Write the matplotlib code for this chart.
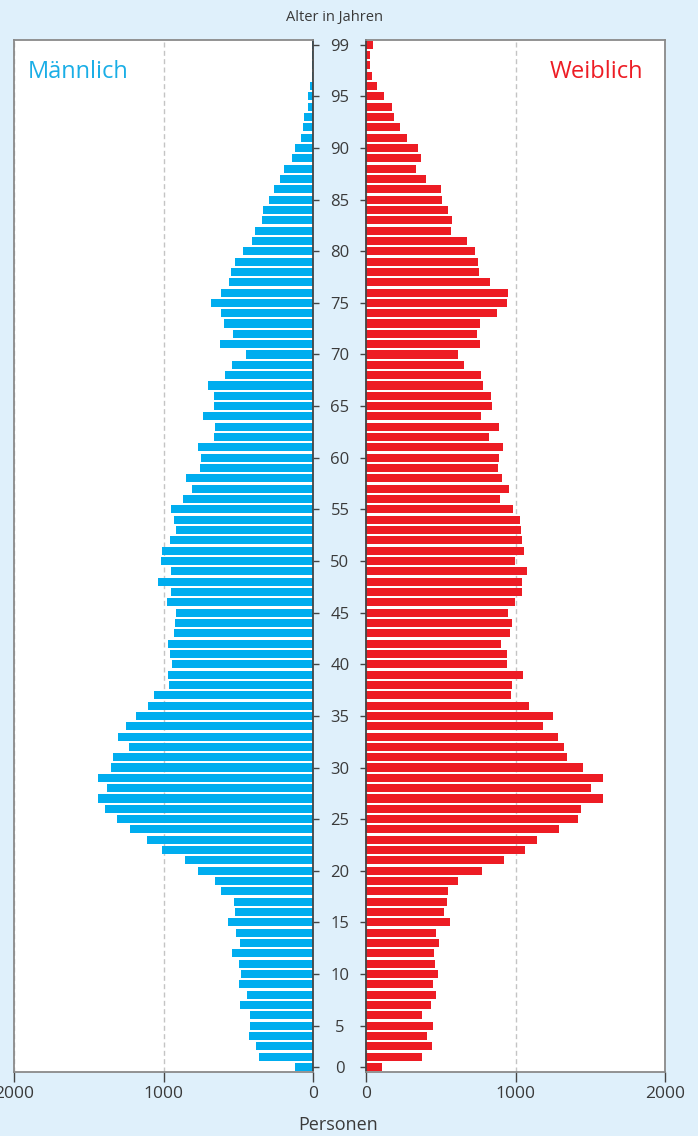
import matplotlib
matplotlib.use('Agg')
import matplotlib.pyplot as plt
import numpy as np

plt.rcParams['font.family'] = ['Open Sans', 'DejaVu Sans']

# population by single year (bar index 0..99, bottom to top)
male = [118, 359, 379, 426, 420, 420, 487, 440, 493, 480,
        493, 540, 487, 513, 567, 520, 527, 614, 654, 768,
        855, 1009, 1109, 1223, 1310, 1391, 1438, 1377, 1438, 1350,
        1337, 1230, 1304, 1250, 1183, 1103, 1063, 962, 969, 942,
        955, 969, 929, 922, 915, 975, 949, 1036, 949, 1016,
        1009, 955, 915, 929, 949, 868, 808, 848, 754, 748,
        768, 661, 654, 734, 661, 661, 701, 587, 540, 446,
        621, 533, 594, 614, 681, 614, 560, 547, 520, 467,
        406, 386, 339, 333, 292, 259, 219, 192, 138, 118,
        78, 65, 58, 31, 31, 18, 10, 10, 10, 9]
female = [105, 374, 441, 407, 447, 374, 434, 468, 447, 481,
          461, 454, 488, 468, 562, 521, 541, 548, 615, 776,
          924, 1065, 1145, 1293, 1421, 1441, 1582, 1508, 1582, 1454,
          1347, 1327, 1286, 1186, 1253, 1092, 971, 978, 1051, 944,
          944, 904, 964, 978, 951, 998, 1045, 1045, 1078, 998,
          1058, 1045, 1038, 1031, 984, 897, 957, 911, 884, 890,
          917, 823, 890, 770, 843, 837, 783, 770, 655, 615,
          763, 743, 763, 877, 944, 951, 830, 756, 749, 729,
          676, 568, 575, 548, 508, 501, 400, 333, 367, 347,
          273, 226, 186, 172, 119, 72, 38, 25, 25, 45]
ages = np.arange(len(male))

age_tick_pos = [0] + list(range(4, 95, 5)) + [99]
age_tick_lab = ['0'] + [str(v) for v in range(5, 96, 5)] + ['99']
x_ticks = [0, 1000, 2000]

bg = '#dff0fb'
blue = '#00adef'
red = '#ed1c24'
txt = '#3a3a3a'
frame = '#8a8a8a'

fig = plt.figure(figsize=(6.98, 11.36), dpi=100, facecolor=bg)
axl = fig.add_axes([14/698, 0.0566, 299/698, 0.9082])
axr = fig.add_axes([366/698, 0.0566, 299/698, 0.9082])

axl.barh(ages, male, height=0.78, color=blue, zorder=2)
axr.barh(ages, female, height=0.78, color=red, zorder=2)

for ax in (axl, axr):
    ax.set_facecolor('white')
    ax.set_ylim(-0.46, 99.46)
    ax.set_xticks(x_ticks)
    ax.set_xticklabels([str(v) for v in x_ticks])
    ax.tick_params(axis='x', direction='out', length=7, width=1, color='#444',
                   labelsize=12.5, labelcolor=txt, pad=3)
    ax.xaxis.grid(True, color='#c4c4c4', lw=1, ls=(0, (3.6, 2.4)))
    ax.set_axisbelow(True)
    for s in ax.spines.values():
        s.set_color(frame)
        s.set_linewidth(1.3)

axl.set_xlim(2000, 0)
axr.set_xlim(0, 2000)
axl.spines['right'].set_color('#444')
axr.spines['left'].set_color('#444')

axl.yaxis.tick_right()
axl.set_yticks(age_tick_pos)
axl.set_yticklabels(age_tick_lab)
axl.tick_params(axis='y', direction='out', length=4.3, width=1, color='#444',
                labelsize=12, labelcolor=txt, pad=15.1)
for lab in axl.get_yticklabels():
    lab.set_horizontalalignment('center')

axr.set_yticks(age_tick_pos)
axr.set_yticklabels([])
axr.tick_params(axis='y', direction='out', length=4.3, width=1, color='#444')

axl.text(0.045, 0.969, 'Männlich', transform=axl.transAxes, ha='left',
         va='center', fontsize=17, color='#1aaee6')
axr.text(0.926, 0.969, 'Weiblich', transform=axr.transAxes, ha='right',
         va='center', fontsize=17, color=red)

fig.text(335/698, 1 - 17/1136, 'Alter in Jahren', ha='center', va='center',
         fontsize=10.5, color=txt)
fig.text(338/698, 1 - 1125/1136, 'Personen', ha='center', va='center',
         fontsize=13, color=txt)

fig.savefig('out.png', dpi=100, facecolor=bg)
